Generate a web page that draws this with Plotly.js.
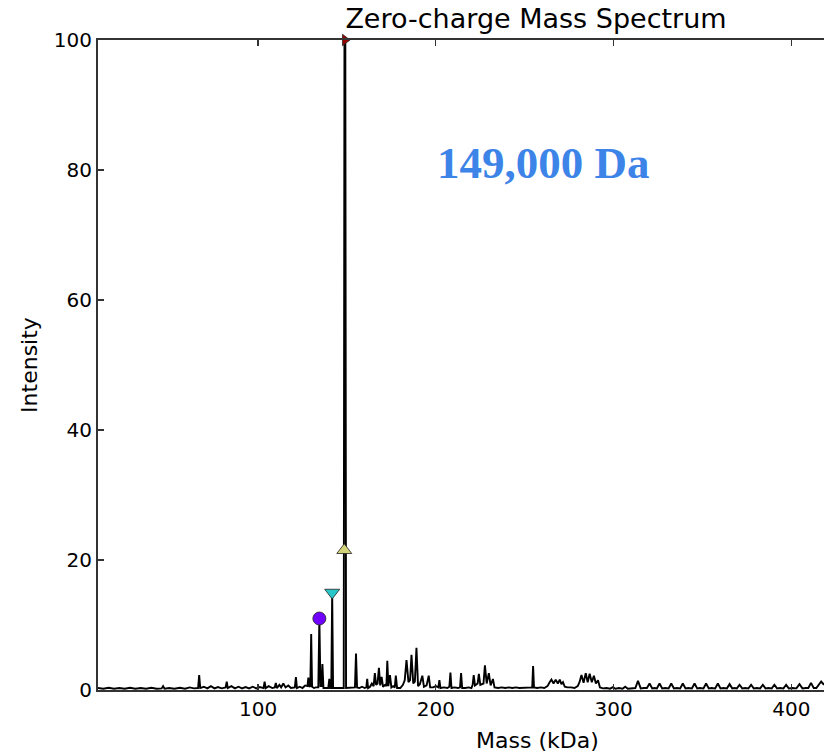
<!DOCTYPE html>
<html>
<head>
<meta charset="utf-8">
<script src="https://cdn.plot.ly/plotly-3.0.1.min.js"></script>
<style>html,body{margin:0;padding:0;background:#fff;}#chart{width:831px;height:752px;}</style>
</head>
<body>
<div id="chart"></div>
<script>
// Spectrum profile (mass in kDa, intensity)
const mass = [10,13,16,19,22,25,28,31,34,37,40,43,45.8,46.6,47.4,50,53,56,59,61.5,64,66.3,66.9,67.5,69.5,71.5,73.5,75.5,77.5,79.5,81.8,82.4,83,85,87,89,91,93,95,97,99,101,103.1,103.7,104.3,106,108,109.4,110,110.6,112,113,114.2,115.5,117,118.5,120.7,121.3,121.9,123.5,125,126.5,127.8,128.3,128.8,129.4,129.9,130.4,131.5,132.5,133.9,134.5,135.1,135.7,136.2,136.8,138,139.5,140.1,140.6,141.2,141.7,142.2,144,146,148.2,148.6,149.1,149.5,151,152.5,154.5,155.1,155.7,157,158.5,160,160.9,161.4,161.9,163,164,165,165.7,166.4,167.2,168,168.7,169.5,170.3,171.5,172.2,172.7,173.3,174.2,175,176,176.9,177.5,178.2,180,181.5,182.5,183.5,184.6,185.5,186.3,187.3,188.2,189.1,190,191,192.4,193.3,194.8,196,196.8,198.5,200,201.4,202,202.6,204.5,206.5,207.6,208.2,208.8,210.5,212.5,213.6,214.2,214.8,216.5,218.5,220,220.7,221.3,222,223.5,224.2,225,226.8,227.6,228.6,229.8,230.8,232.1,233,235,237,239,241,243,245,247,249,251,253,254.2,254.7,255.2,257,259,261,262.8,264,265,266.2,267.4,268.6,269.7,270.6,271.5,272.5,274,276,278,279.8,280.8,281.9,283.1,284.3,285.4,286.5,287.7,288.9,290,291.2,292.3,294,296,298,299.6,301,303,305,306.5,308,310,312.2,313.7,315.2,317,318.7,320.2,321.7,323,324.3,325.8,327.3,329,330.9,332.4,333.9,335.5,337.4,338.9,340.4,342,344,345.5,347,348.5,350.5,352,353.5,355,357.1,358.6,360.1,361.8,363.7,365.2,366.7,368,369.3,370.8,372.3,374,375.8,377.3,378.8,380.5,382.4,383.9,385.4,387,388.9,390.4,391.9,393.5,395.5,397,398.5,400.5,402.8,404.5,406.2,408,409.5,411,412.5,414,415.5,416.7,418.3];
const intensity = [0.3,0.2,0.35,0.2,0.3,0.2,0.35,0.2,0.3,0.2,0.35,0.2,0.25,0.6,0.2,0.3,0.2,0.35,0.2,0.4,0.25,0.3,2.3,0.3,0.5,0.25,0.6,0.25,0.45,0.25,0.4,1.3,0.3,0.6,0.25,0.5,0.25,0.45,0.25,0.5,0.25,0.45,0.3,1.3,0.3,0.6,0.3,0.4,1.1,0.3,0.8,0.4,1.0,0.4,0.7,0.3,0.4,2.0,0.3,0.5,0.3,0.7,0.6,1.9,0.6,0.5,8.6,0.5,0.3,0.4,0.4,11.0,0.6,0.6,4.0,0.3,0.3,0.3,1.7,0.3,0.3,15.0,0.3,0.3,0.3,0.3,100,100,0.3,0.3,0.4,0.4,5.6,0.4,0.3,0.5,0.3,0.4,1.7,0.3,0.5,1.0,0.6,2.6,0.8,1.0,3.4,0.7,2.0,0.5,0.8,0.6,4.5,0.6,2.3,0.4,0.6,0.4,2.2,0.3,0.3,0.8,1.5,4.6,1.2,1.5,5.4,1.0,1.3,6.5,0.6,0.9,2.2,0.5,0.7,2.2,0.4,0.4,0.6,0.4,1.5,0.3,0.4,0.3,0.5,2.7,0.3,0.4,0.3,0.4,2.6,0.3,0.3,0.4,0.3,0.8,2.3,0.7,1.0,2.5,0.8,1.0,3.8,1.0,2.6,0.7,1.7,0.4,0.3,0.4,0.3,0.4,0.3,0.4,0.3,0.35,0.3,0.4,0.4,3.7,0.4,0.3,0.4,0.3,0.6,1.2,1.6,1.0,1.6,1.0,1.6,0.9,1.2,0.5,0.4,0.4,0.3,0.6,1.2,2.3,1.1,2.6,1.2,2.5,1.2,2.2,1.0,1.5,0.4,0.25,0.3,0.2,0.45,0.2,0.3,0.2,0.5,0.2,0.3,0.3,1.4,0.25,0.3,0.3,1.0,0.25,0.3,0.25,1.0,0.25,0.3,0.25,1.0,0.25,0.3,0.25,1.0,0.25,0.3,0.25,1.0,0.25,0.3,0.25,1.0,0.25,0.3,0.25,1.0,0.25,0.3,0.25,0.9,0.25,0.3,0.25,0.8,0.25,0.3,0.25,0.8,0.25,0.3,0.25,0.8,0.25,0.3,0.25,0.8,0.25,0.3,0.25,0.8,0.25,0.3,0.25,0.9,0.25,0.3,0.3,1.1,0.3,0.3,0.8,1.3,0.8];

// Marked peaks
const markerMass = [134.5, 141.7, 148.5, 148.9];
const markerIntensity = [11, 15, 21.5, 100];
const markerSymbols = ['circle', 'triangle-down', 'triangle-up', 'triangle-right'];
const markerColors = ['#7000ff', '#26c6c9', '#d2d27a', '#9a0000'];

// Axis ticks and labels
const xTicks = [100, 200, 300, 400];
const yTicks = [0, 20, 40, 60, 80, 100];
const xLabel = 'Mass (kDa)';
const yLabel = 'Intensity';
const chartTitle = 'Zero-charge Mass Spectrum';
const peakLabel = '149,000 Da';

const traces = [
  {
    x: mass, y: intensity, type: 'scatter', mode: 'lines',
    line: {color: '#000000', width: 1.9},
    hoverinfo: 'skip', showlegend: false
  },
  {
    x: markerMass, y: markerIntensity, type: 'scatter', mode: 'markers',
    cliponaxis: false,
    marker: {symbol: markerSymbols, color: markerColors, size: [13, 13, 13, 10], opacity: 1,
             line: {color: '#222222', width: 0.8}},
    showlegend: false
  }
];

const axisCommon = {
  showgrid: false, zeroline: false, showline: true,
  linecolor: '#333333', linewidth: 2,
  ticks: 'inside', ticklen: 6, tickwidth: 1.2, tickcolor: '#333333',
  tickfont: {family: 'DejaVu Sans', size: 20, color: '#000000'}
};

const layout = {
  width: 831, height: 752,
  margin: {l: 98, r: 7, t: 40, b: 62, pad: 0},
  paper_bgcolor: '#ffffff', plot_bgcolor: '#ffffff',
  title: {
    text: chartTitle,
    font: {family: 'DejaVu Sans', size: 27, color: '#000000'},
    xref: 'container', x: 0.645, xanchor: 'center',
    yref: 'container', y: 0.975, yanchor: 'middle'
  },
  xaxis: Object.assign({}, axisCommon, {
    range: [10, 418.3], tickmode: 'array', tickvals: xTicks,
    mirror: 'ticks'
  }),
  yaxis: Object.assign({}, axisCommon, {
    range: [0, 100], tickmode: 'array', tickvals: yTicks,
    mirror: false,
    title: {text: yLabel, font: {family: 'DejaVu Sans', size: 22, color: '#000000'}, standoff: 10}
  }),
  annotations: [
    {
      text: '<b>' + peakLabel + '</b>',
      xref: 'paper', yref: 'paper', x: 0.6136, y: 0.8108,
      xanchor: 'center', yanchor: 'middle', showarrow: false,
      font: {family: 'Liberation Serif', size: 45, color: '#3c84e8'}
    },
    {
      text: xLabel,
      xref: 'paper', yref: 'paper', x: 0.606, y: -0.077,
      xanchor: 'center', yanchor: 'middle', showarrow: false,
      font: {family: 'DejaVu Sans', size: 22, color: '#000000'}
    }
  ]
};

Plotly.newPlot('chart', traces, layout, {displayModeBar: false, staticPlot: true});
</script>
</body>
</html>
